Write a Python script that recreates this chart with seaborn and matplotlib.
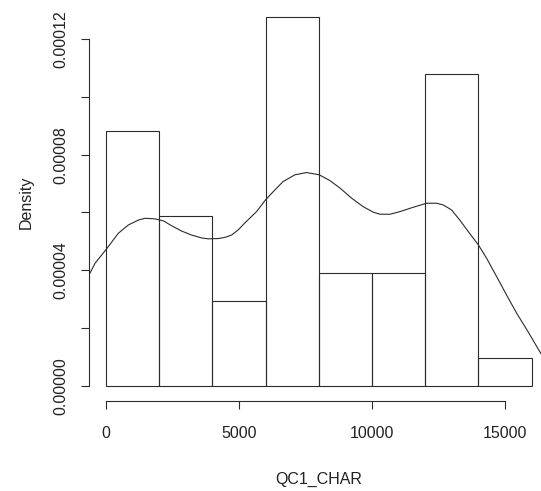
import numpy as np
import pandas as pd
import matplotlib
matplotlib.use("Agg")
import matplotlib.pyplot as plt
import seaborn as sns

# histogram bins (hist(..., freq=FALSE) style) - counts
bin_edges = [0, 2000, 4000, 6000, 8000, 10000, 12000, 14000, 16000]
bin_counts = [9, 6, 3, 13, 4, 4, 11, 1]

# density curve
curve_x = [-640, -410, 10, 460, 840, 1220, 1470, 1840, 2160, 2470, 2840,
           3220, 3600, 3850, 4220, 4470, 4720, 4970, 5220, 5660, 6000, 6350,
           6660, 7100, 7540, 8020, 8420, 8800, 9240, 9670, 10050, 10300,
           10680, 11050, 11550, 12050, 12430, 12680, 12990, 13300, 13620,
           14000, 14310, 14690, 15060, 15440, 15870, 16310, 16500]
curve_y = [3.84e-5, 4.25e-5, 4.73e-5, 5.28e-5, 5.57e-5, 5.74e-5, 5.80e-5,
           5.78e-5, 5.71e-5, 5.54e-5, 5.36e-5, 5.22e-5, 5.12e-5, 5.09e-5,
           5.10e-5, 5.14e-5, 5.22e-5, 5.40e-5, 5.64e-5, 6.03e-5, 6.44e-5,
           6.78e-5, 7.07e-5, 7.30e-5, 7.38e-5, 7.30e-5, 7.10e-5, 6.84e-5,
           6.49e-5, 6.20e-5, 6.01e-5, 5.94e-5, 5.94e-5, 6.03e-5, 6.18e-5,
           6.32e-5, 6.32e-5, 6.26e-5, 6.09e-5, 5.74e-5, 5.34e-5, 4.88e-5,
           4.42e-5, 3.78e-5, 3.15e-5, 2.52e-5, 1.88e-5, 1.19e-5, 0.92e-5]

x_ticks = [0, 5000, 10000, 15000]
y_ticks = [0, 0.00002, 0.00004, 0.00006, 0.00008, 0.00010, 0.00012]
y_ticklabels = ["0.00000", "", "0.00004", "", "0.00008", "", "0.00012"]

sns.set_style("ticks")
plt.rcParams['font.family'] = ['Liberation Sans', 'DejaVu Sans']

line_col = "#2b2b2b"

fig = plt.figure(figsize=(5.41, 4.91), dpi=100)
# plot region like R's, right side runs past the (cropped) image edge
ax = fig.add_axes([89 / 541, (491 - 401) / 491, (548.6 - 89) / 541, (401 - 4) / 491])

centers = [(a + b) / 2 for a, b in zip(bin_edges[:-1], bin_edges[1:])]
hist_df = pd.DataFrame({"x": centers, "w": bin_counts})
sns.histplot(data=hist_df, x="x", weights="w", bins=bin_edges, stat="density",
             fill=False, element="bars", color=line_col, linewidth=0.8, ax=ax)

curve_df = pd.DataFrame({"x": curve_x, "y": curve_y})
sns.lineplot(data=curve_df, x="x", y="y", color=line_col, linewidth=0.8,
             sort=False, ax=ax)

ax.set_xlim(-640, 16640)
ax.set_ylim(-5.1e-6, 1.32e-4)

ax.set_xticks(x_ticks)
ax.set_xticklabels([str(t) for t in x_ticks])
ax.set_yticks(y_ticks)
ax.set_yticklabels(y_ticklabels, rotation=90, va="center")

for s in ["top", "right"]:
    ax.spines[s].set_visible(False)
ax.spines["left"].set_bounds(0, 0.00012)
ax.spines["bottom"].set_bounds(0, 15000)
for s in ["left", "bottom"]:
    ax.spines[s].set_color(line_col)
    ax.spines[s].set_linewidth(0.8)

ax.tick_params(axis="both", direction="out", length=6, width=0.8,
               color=line_col, labelsize=11.5, labelcolor="#222222")
ax.tick_params(axis="x", pad=12)
ax.tick_params(axis="y", pad=9)

ax.set_xlabel("QC1_CHAR", fontsize=11.5, color="#222222", labelpad=22)
ax.set_ylabel("Density", fontsize=11.5, color="#222222", labelpad=14)
ax.grid(False)

fig.savefig("out.png", dpi=100)
